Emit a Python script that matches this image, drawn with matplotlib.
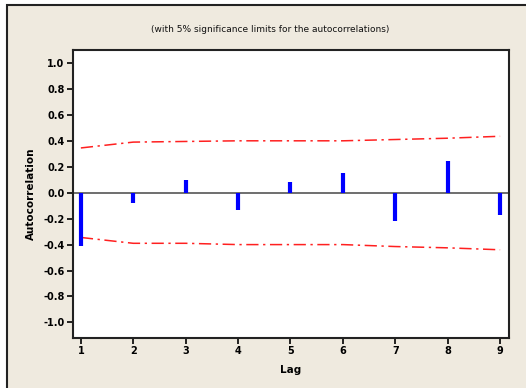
import matplotlib
matplotlib.use("Agg")
import matplotlib.pyplot as plt
import matplotlib.patches as mpatches
import numpy as np

lags = [1, 2, 3, 4, 5, 6, 7, 8, 9]
acf = [-0.41, -0.08, 0.095, -0.135, 0.08, 0.15, -0.215, 0.245, -0.175]
upper = [0.345, 0.39, 0.395, 0.40, 0.40, 0.40, 0.41, 0.42, 0.435]
lower = [-0.345, -0.39, -0.39, -0.40, -0.40, -0.40, -0.415, -0.425, -0.44]
yticks = [1.0, 0.8, 0.6, 0.4, 0.2, 0.0, -0.2, -0.4, -0.6, -0.8, -1.0]

W, H = 526, 388
fig = plt.figure(figsize=(W / 100, H / 100), dpi=100)
fig.patch.set_facecolor("white")

# beige panel with black frame (runs off the right/bottom edge)
panel = mpatches.Rectangle((7 / W, -0.01), 1.0, 1.01 - 5 / H, transform=fig.transFigure,
                           facecolor="#efeadf", edgecolor="#222222", linewidth=1.5,
                           zorder=-5)
fig.add_artist(panel)

ax = fig.add_axes([73 / W, 1 - 338 / H, (509 - 73) / W, (338 - 50) / H])
ax.set_facecolor("white")

ax.axhline(0, color="#555555", linewidth=1.2, zorder=1)
ax.vlines(lags, 0, acf, color="#0000ff", linewidth=3, zorder=3)
ax.plot(lags, upper, color="#ff2020", linestyle=(0, (8, 3, 1.5, 3)), linewidth=1.1, zorder=2)
ax.plot(lags, lower, color="#ff2020", linestyle=(0, (8, 3, 1.5, 3)), linewidth=1.1, zorder=2)

ax.set_xlim(0.85, 9.17)
ax.set_ylim(-1.12, 1.1)
ax.set_xticks(lags)
ax.set_yticks(yticks)
ax.set_yticklabels([f"{v:.1f}" for v in yticks])
ax.tick_params(direction="out", length=4, width=1.2, labelsize=7, pad=2)
for lab in ax.get_xticklabels() + ax.get_yticklabels():
    lab.set_fontweight("bold")
for s in ax.spines.values():
    s.set_linewidth(1.5)
    s.set_color("#222222")

ax.set_xlabel("Lag", fontsize=7.5, fontweight="bold", labelpad=6)
ax.set_ylabel("Autocorrelation", fontsize=7.5, fontweight="bold", labelpad=5)
fig.text(270 / W, 1 - 30 / H, "(with 5% significance limits for the autocorrelations)",
         ha="center", va="center", fontsize=6.5, color="#111111")

fig.savefig("out.png", dpi=100)
